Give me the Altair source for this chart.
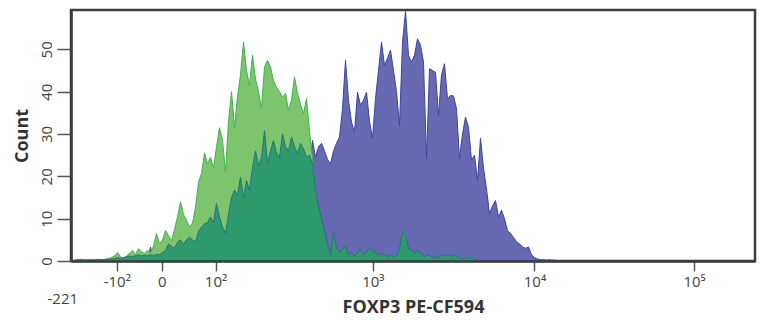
import numpy as np
import pandas as pd
import altair as alt

# ---------------- data ----------------
# x axis: biexponential-like display (asinh) of FOXP3 PE-CF594 intensity
tick_values = [-100, 0, 100, 1000, 10000, 100000]
tick_labels = ["-10\u00b2", "0", "10\u00b2", "10\u00b3", "10\u2074", "10\u2075"]
y_ticks = [0, 10, 20, 30, 40, 50]
axis_min, axis_max = -265, 241000
min_label = "-221"
n_channels = 228
y_max = 59.3

# histogram counts per display channel: list of (start channel, counts)
light_green = [(0, [0, 0.2, 0.3, 0.4, 0.3, 0.2, 0.3, 0.3, 0.4, 0.3, 0.2, 0.5, 0.6, 0.8,
                    1.2, 2.0, 1.0, 0.5, 1.2, 1.8, 2.5, 1.5, 2.9, 2.2, 1.8, 2.5, 2.0, 3.5,
                    6.5, 4.0, 5.0, 7.2, 6.0, 4.8, 7.5, 10.4, 14.0, 11.0, 9.6, 8.0, 9.0,
                    12.7, 18.6, 20.7, 25.5, 23.0, 24.5, 22.0, 27.0, 31.5, 28.5, 21.0,
                    33.0, 40.0, 31.5, 38.7, 44.0, 51.7, 45.0, 41.5, 48.6, 43.0, 40.0,
                    36.0, 45.8, 47.4, 45.8, 42.7, 41.0, 40.0, 38.7, 39.6, 35.6, 38.0,
                    43.5, 39.6, 37.0, 34.8, 38.4, 30.8, 24.0, 16.0, 8.0, 3.0, 1.0, 0])]

dark_green = [(0, [0, 0.2, 0.3, 0.3, 0.2, 0.3, 0.3, 0.2, 0.3, 0.4, 0.3, 0.3, 0.4,
                   0.5, 0.6, 0.8, 0.6, 0.8, 1.0, 1.2, 1.0, 1.3, 1.5, 1.2, 1.4, 1.2, 1.5,
                   1.3, 1.6, 1.5, 2.0, 2.5, 4.0, 3.5, 3.0, 4.5, 5.0, 4.0, 5.0, 5.6, 5.0,
                   4.5, 7.0, 8.0, 8.8, 9.0, 10.4, 9.0, 13.6, 10.4, 8.0, 6.5, 11.0, 15.0,
                   16.7, 15.5, 19.8, 15.0, 19.0, 16.7, 22.0, 26.0, 22.5, 24.5, 30.8,
                   23.0, 26.0, 28.5, 25.5, 24.5, 30.0, 27.0, 26.0, 29.3, 27.0, 25.4,
                   27.8, 26.5, 24.5, 25.0, 23.0, 16.7, 13.0, 10.0, 7.0, 4.0, 1.5, 7.0,
                   3.0, 2.0, 3.0, 3.3, 1.5, 2.0, 1.2, 1.8, 3.0, 1.5, 2.0, 3.3, 2.5, 2.0,
                   1.2, 1.8, 1.5, 1.0, 1.5, 1.0, 1.2, 3.0, 7.0, 6.0, 3.0, 2.5, 1.8, 2.5,
                   2.0, 1.0, 1.2, 1.5, 0.8, 1.0, 0.8, 1.5, 1.2, 1.5, 1.0, 1.5, 1.2, 0.6,
                   0.5, 0.8, 0.6, 1.0, 0.5, 0.3, 0])]

blue = [(25, [0, 3.3, 0]),
        (77, [0, 10.0, 22.0, 28.5, 24.5, 27.0, 27.8, 26.0, 24.0, 23.0, 26.0, 27.8,
              29.3, 36.0, 47.4, 38.0, 32.8, 30.4, 39.9, 36.8, 38.0, 39.9, 33.0, 29.0,
              38.4, 45.0, 51.7, 46.2, 47.9, 49.8, 45.0, 40.0, 32.0, 51.7, 59.0, 48.6,
              47.0, 48.6, 52.5, 51.0, 47.0, 24.2, 45.4, 45.0, 44.6, 34.4, 44.0, 46.6,
              38.3, 39.1, 39.0, 36.0, 24.2, 30.0, 34.0, 31.6, 23.8, 25.0, 19.0, 29.0,
              22.0, 17.0, 11.2, 13.0, 14.3, 10.4, 12.0, 10.0, 7.2, 6.5, 5.6, 4.5, 4.1,
              3.3, 3.0, 3.3, 1.5, 0.8, 0.5, 0.3, 0.3, 0.2, 0.3, 0.2, 0.2, 0])]


def disp(v):
    """asinh (biexponential-like) display transform"""
    return float(np.arcsinh((float(v) - 40.0) / 125.0))


t_lo, t_hi = disp(axis_min), disp(axis_max)
step = (t_hi - t_lo) / n_channels

rows = []
for name, segs in [("blue", blue), ("lightgreen", light_green), ("darkgreen", dark_green)]:
    for start, counts in segs:
        for i, c in enumerate(counts):
            ch = start + i
            rows.append({"series": name, "t": t_lo + (ch + 0.5) * step, "count": c})
df = pd.DataFrame(rows)

tick_pos = [disp(v) for v in tick_values]
expr = ""
for p, lab in zip(tick_pos, tick_labels):
    expr += f"abs(datum.value - ({p:.6f})) < 0.0001 ? '{lab}' : "
expr += "datum.label"

# ---------------- chart ----------------
xscale = alt.Scale(domain=[t_lo, t_hi], nice=False, zero=False)
yscale = alt.Scale(domain=[0, y_max], nice=False, zero=True)

yaxis = alt.Axis(values=y_ticks, title="Count", labelAngle=270, labelAlign="center",
                 labelBaseline="bottom", tickSize=14, labelPadding=3,
                 labelFontSize=15, labelColor="#444444", tickColor="#555555",
                 tickWidth=1.5, domain=True, domainColor="#3d3d3d", domainWidth=2.5,
                 grid=False, titleFontSize=18, titleFontWeight="bold",
                 titleColor="#333333", titlePadding=8, zindex=1)

main_xaxis = alt.Axis(orient="bottom", values=tick_pos, labelExpr=expr,
                      title="FOXP3 PE-CF594",
                      tickSize=10, tickColor="#555555", tickWidth=1.5, labelPadding=3,
                      labelFontSize=15, labelColor="#444444", labelFlush=False,
                      labelOverlap=False, domain=True, domainColor="#3d3d3d",
                      domainWidth=2.5, grid=False, titleFontSize=18,
                      titleFontWeight="bold", titleColor="#333333", titlePadding=9,
                      zindex=1)

min_xaxis = alt.Axis(orient="bottom", values=[t_lo], labelExpr=f"'{min_label}'",
                     title=None, tickSize=0, ticks=False, domain=False, grid=False,
                     labelPadding=30, labelFontSize=15, labelColor="#444444",
                     labelFlush=True, labelFlushOffset=24, labelOverlap=False)

base = alt.Chart(df)

blue_layer = base.transform_filter(alt.datum.series == "blue").mark_area(
    fill="#6769b3", stroke="#3c44a3", strokeWidth=1, interpolate="linear"
).encode(x=alt.X("t:Q", scale=xscale, axis=main_xaxis),
         y=alt.Y("count:Q", scale=yscale, axis=yaxis))

lg_layer = base.transform_filter(alt.datum.series == "lightgreen").mark_area(
    fill="#7ec46c", stroke="#3fb350", strokeWidth=1, interpolate="linear"
).encode(x=alt.X("t:Q", scale=xscale, axis=min_xaxis),
         y=alt.Y("count:Q", scale=yscale, axis=yaxis))

dg_layer = base.transform_filter(alt.datum.series == "darkgreen").mark_area(
    fill="#2e9a6d", stroke="#23747a", strokeWidth=1, interpolate="linear"
).encode(x=alt.X("t:Q", scale=xscale, axis=None),
         y=alt.Y("count:Q", scale=yscale, axis=yaxis))

chart = alt.layer(blue_layer, lg_layer, dg_layer).resolve_axis(
    x="independent"
).properties(
    width=684, height=251,
    padding={"left": 71, "top": 10, "right": 6, "bottom": 57},
    autosize=alt.AutoSizeParams(type="none"),
    background="white",
).configure(font="Open Sans").configure_view(
    stroke="#3d3d3d", strokeWidth=2.5
)

chart.save("out.html", embed_options={"renderer": "svg", "actions": False})
